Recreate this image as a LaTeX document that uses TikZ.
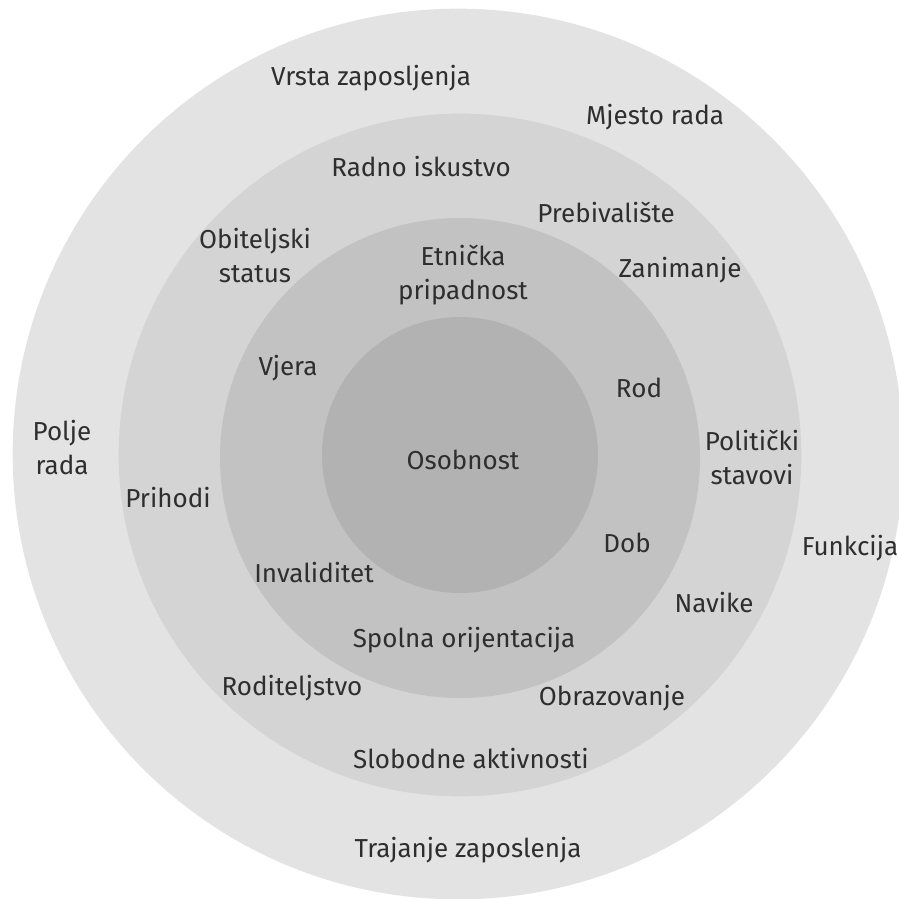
\documentclass[tikz,border=0pt]{standalone}
\usepackage{fontspec}
\setmainfont{Fira Sans}
\begin{document}
\begin{tikzpicture}[x=0.75pt,y=-0.75pt,
  lbl/.style={text=black!82, font=\fontsize{19.5}{25.5}\selectfont, align=center, inner sep=0pt},
  ring/.style={circle, inner sep=0pt, draw=none}]
\useasboundingbox (0,0) rectangle (899,899);
\clip (0,0) rectangle (899,899);
\fill[white] (0,0) rectangle (899,899);
\node[ring, fill=black!11, minimum size=668pt] (c1) at (458,454) {};
\node[ring, fill=black!17, minimum size=512pt] (c2) at (460,455) {};
\node[ring, fill=black!24, minimum size=360pt] (c3) at (460,458) {};
\node[ring, fill=black!30, minimum size=207pt] (c4) at (460,455) {};

\node[lbl] (t1) at (371,78) {Vrsta zaposljenja};
\node[lbl] (t2) at (655,117) {Mjesto rada};
\node[lbl] (t3) at (421,167) {Radno iskustvo};
\node[lbl] (t4) at (606,212) {Prebivalište};
\node[lbl] (t5) at (255,256) {Obiteljski\\status};
\node[lbl] (t6) at (463,275) {Etnička\\pripadnost};
\node[lbl] (t7) at (680,270) {Zanimanje};
\node[lbl] (t8) at (288,368) {Vjera};
\node[lbl] (t9) at (639,388) {Rod};
\node[lbl] (t10) at (62,448) {Polje\\rada};
\node[lbl] (t11) at (463,460) {Osobnost};
\node[lbl] (t12) at (752,457) {Politički\\stavovi};
\node[lbl] (t13) at (168,498) {Prihodi};
\node[lbl] (t14) at (627,543) {Dob};
\node[lbl] (t15) at (850,548) {Funkcija};
\node[lbl] (t16) at (314,573) {Invaliditet};
\node[lbl] (t17) at (714,603) {Navike};
\node[lbl] (t18) at (464,640) {Spolna orijentacija};
\node[lbl] (t19) at (292,688) {Roditeljstvo};
\node[lbl] (t20) at (612,698) {Obrazovanje};
\node[lbl] (t21) at (471,759) {Slobodne aktivnosti};
\node[lbl] (t22) at (468,850) {Trajanje zaposlenja};
\end{tikzpicture}
\end{document}
